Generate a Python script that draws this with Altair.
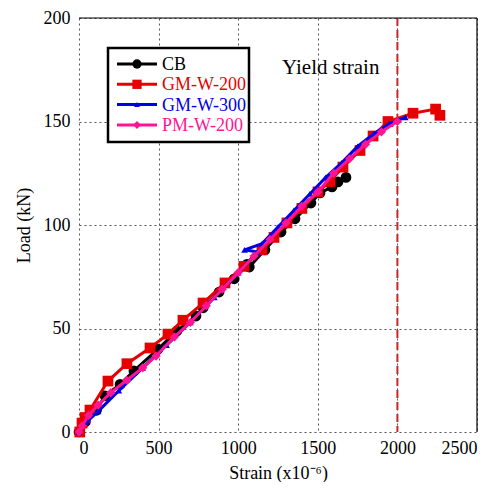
import altair as alt
import pandas as pd

series = ["CB", "GM-W-200", "GM-W-300", "PM-W-200"]
colors = ["#000000", "#e60000", "#0000e6", "#ff1493"]
shapes = ["circle", "square", "triangle-up", "diamond"]
sizes = [115, 115, 45, 85]

cb_strain = [0, 40, 110, 163, 258, 345, 496, 615, 735, 780, 880, 975, 1055, 1070, 1168, 1269, 1357, 1457, 1514, 1589, 1627, 1677]
cb_load = [0, 5, 10.5, 17.5, 23, 29.5, 40, 48.8, 56, 60, 67.6, 74, 81, 79.7, 88, 96.6, 103, 110.6, 115.5, 118.4, 120.8, 123]

gm200_strain = [5, 19, 38, 69, 182, 301, 446, 559, 653, 779, 917, 1036, 1149, 1225, 1306, 1400, 1501, 1577, 1658, 1765, 1847, 1941, 2098, 2240, 2267]
gm200_load = [0, 4.3, 7, 10.6, 24.6, 33, 40.6, 47.3, 54, 62.3, 72, 80, 88, 94, 101, 108, 116, 121, 128, 136, 143, 150, 154, 156, 153]

gm300_strain = [0, 50, 120, 250, 400, 550, 700, 850, 1000, 1120, 1040, 1150, 1250, 1350, 1450, 1550, 1650, 1750, 1850, 1950, 2050]
gm300_load = [0, 5, 10, 20, 31, 42, 53, 65, 77, 87, 88, 91, 99, 107, 115, 123, 130, 138, 144, 149, 152]

pm200_strain = [0, 20, 60, 120, 200, 300, 400, 484, 600, 700, 800, 900, 1000, 1100, 1200, 1300, 1400, 1500, 1600, 1700, 1800, 1900, 2000]
pm200_load = [0, 3, 8, 13, 19, 25, 31, 36.7, 46, 53, 61, 69, 77, 85, 93, 101, 109, 116, 125, 132, 139, 145, 150]

yield_strain = 2000

all_strain = [cb_strain, gm200_strain, gm300_strain, pm200_strain]
all_load = [cb_load, gm200_load, gm300_load, pm200_load]

rows = []
for name, xs, ys in zip(series, all_strain, all_load):
    for i, (xv, yv) in enumerate(zip(xs, ys)):
        rows.append({"series": name, "idx": i, "strain": xv, "load": yv})
df = pd.DataFrame(rows)

W, H = 398, 414
FONT = "Liberation Serif"

xscale = alt.Scale(domain=[0, 2500], nice=False, zero=False)
yscale = alt.Scale(domain=[0, 200], nice=False, zero=False)

layers = []

# yield line
layers.append(
    alt.Chart(pd.DataFrame({"x": [yield_strain]}))
    .mark_rule(color="#c62828", strokeWidth=2, strokeDash=[8, 4])
    .encode(x=alt.X("x:Q", scale=xscale,
                    axis=alt.Axis(values=[0, 500, 1000, 1500, 2000, 2500], format="d",
                                  title="Strain (x10⁻⁶)")))
)

for name, col, shp, sz in zip(series, colors, shapes, sizes):
    sub = df[df["series"] == name]
    base = alt.Chart(sub).encode(
        x=alt.X("strain:Q", scale=xscale),
        y=alt.Y("load:Q", scale=yscale,
                axis=alt.Axis(values=[0, 50, 100, 150, 200], format="d", title="Load (kN)")),
        order="idx:Q",
    )
    layers.append(base.mark_line(color=col, strokeWidth=3))
    layers.append(base.mark_point(shape=shp, filled=True, size=sz, color=col, opacity=1))

one = pd.DataFrame({"a": [0]})

# top and right frame lines
layers.append(alt.Chart(one).mark_rule(color="black", strokeWidth=1.2).encode(
    x=alt.value(0), x2=alt.value(W), y=alt.value(0)))
layers.append(alt.Chart(one).mark_rule(color="black", strokeWidth=1.2).encode(
    x=alt.value(W), y=alt.value(0), y2=alt.value(H)))

# yield strain annotation
layers.append(alt.Chart(one).mark_text(text="Yield strain", align="left", baseline="middle",
                                       font=FONT, fontSize=21, color="black").encode(
    x=alt.value(203), y=alt.value(50)))

# legend
layers.append(alt.Chart(one).mark_rect(fill="white", stroke="black", strokeWidth=2.5).encode(
    x=alt.value(29), x2=alt.value(170), y=alt.value(30), y2=alt.value(124)))
for i, (name, col, shp, sz) in enumerate(zip(series, colors, shapes, sizes)):
    ly = 46 + 20.3 * i
    layers.append(alt.Chart(one).mark_rule(color=col, strokeWidth=3).encode(
        x=alt.value(38), x2=alt.value(78), y=alt.value(ly)))
    layers.append(alt.Chart(one).mark_point(shape=shp, filled=True, size=sz * 0.75, color=col, opacity=1).encode(
        x=alt.value(58), y=alt.value(ly)))
    layers.append(alt.Chart(one).mark_text(text=name, align="left", baseline="middle",
                                           font=FONT, fontSize=18, color=col).encode(
        x=alt.value(83), y=alt.value(ly + 1)))

chart = (
    alt.layer(*layers)
    .properties(width=W, height=H,
                autosize=alt.AutoSizeParams(type="none"),
                padding={"left": 71, "top": 10, "right": 11, "bottom": 50})
    .configure_view(stroke=None)
    .configure_axis(
        labelFont=FONT, labelFontSize=18, labelColor="black",
        titleFont=FONT, titleFontSize=18, titleFontWeight="normal", titleColor="black",
        grid=True, gridColor="#555555", gridDash=[2, 3], gridWidth=1, gridOpacity=1,
        domain=False, ticks=False,
    )
    .configure_axisX(labelPadding=7, titlePadding=7)
    .configure_axisY(labelPadding=9, titlePadding=10)
)

chart.save("out.html", embed_options={"renderer": "svg", "actions": False})
